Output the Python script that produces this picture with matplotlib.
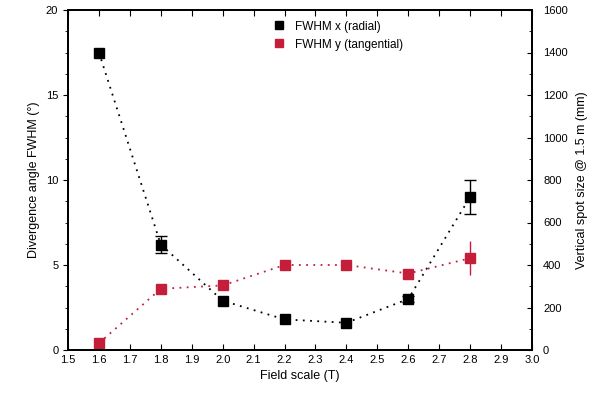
import numpy as np
import matplotlib
matplotlib.use('Agg')
import matplotlib.pyplot as plt
from matplotlib.ticker import MultipleLocator
from matplotlib.lines import Line2D

# %%
field_scale = [1.6, 1.8, 2.0, 2.2, 2.4, 2.6, 2.8]
fwhm_x = [17.5, 6.2, 2.9, 1.8, 1.6, 3.0, 9.0]
fwhm_x_err = [0.0, 0.5, 0.0, 0.0, 0.0, 0.2, 1.0]
fwhm_y = [0.4, 3.6, 3.8, 5.0, 5.0, 4.5, 5.4]
fwhm_y_err = [0.0, 0.0, 0.0, 0.0, 0.0, 0.0, 1.0]

x_ticks = [round(v, 1) for v in np.arange(1.5, 3.01, 0.1)]
left_ticks = [0, 5, 10, 15, 20]
right_ticks = [0, 200, 400, 600, 800, 1000, 1200, 1400, 1600]

red = '#c41e3a'

# %%
plt.rcParams['font.family'] = ['Liberation Sans', 'DejaVu Sans']
fig = plt.figure(figsize=[6.15, 4.12], dpi=100)
ax1 = fig.add_axes([68/615, 1-350/412, (532-68)/615, 340/412])

series = [(fwhm_x, fwhm_x_err, 'black', 4, 'FWHM x (radial)'),
          (fwhm_y, fwhm_y_err, red, 0, 'FWHM y (tangential)')]
handles = []
for vals, errs, color, cap, label in series:
    ax1.plot(field_scale, vals, color=color, ls=(0, (1, 3)), lw=1.3,
             marker='s', ms=6.5, zorder=3)
    xs = [x for x, e in zip(field_scale, errs) if e > 0]
    ys = [v for v, e in zip(vals, errs) if e > 0]
    es = [e for e in errs if e > 0]
    ax1.errorbar(xs, ys, yerr=es, color=color, ls='none', capsize=cap, elinewidth=1, zorder=2)
    handles.append(Line2D([], [], color=color, marker='s', ls='none', ms=6, label=label))

ax1.set_xlim(1.5, 3.0)
ax1.set_ylim(0, 20)
ax1.set_xticks(x_ticks)
ax1.set_xticklabels([f'{v:.1f}' for v in x_ticks])
ax1.set_yticks(left_ticks)
ax1.yaxis.set_minor_locator(MultipleLocator(1.25))
ax1.tick_params(axis='x', direction='in', top=True, labelsize=8, length=4)
ax1.tick_params(axis='y', which='both', direction='out', labelsize=8)
ax1.tick_params(axis='y', which='minor', length=2)
ax1.set_xlabel('Field scale (T)', fontsize=9)
ax1.set_ylabel('Divergence angle FWHM (°)', fontsize=9)

ax2 = ax1.twinx()
ax2.set_ylim(0, 1600)
ax2.set_yticks(right_ticks)
ax2.yaxis.set_minor_locator(MultipleLocator(100))
ax2.tick_params(axis='y', which='both', direction='in', labelsize=8, pad=8)
ax2.tick_params(axis='y', which='minor', length=2)
ax2.set_ylabel('Vertical spot size @ 1.5 m (mm)', fontsize=9, labelpad=6)

for ax in (ax1, ax2):
    for s in ax.spines.values():
        s.set_linewidth(1.3)

ax1.legend(handles=handles, loc='upper left', bbox_to_anchor=(0.42, 1.0), frameon=False,
           fontsize=8.5, handletextpad=0.8, labelspacing=0.5, handlelength=1.0)

plt.savefig('out.png', dpi=100)
